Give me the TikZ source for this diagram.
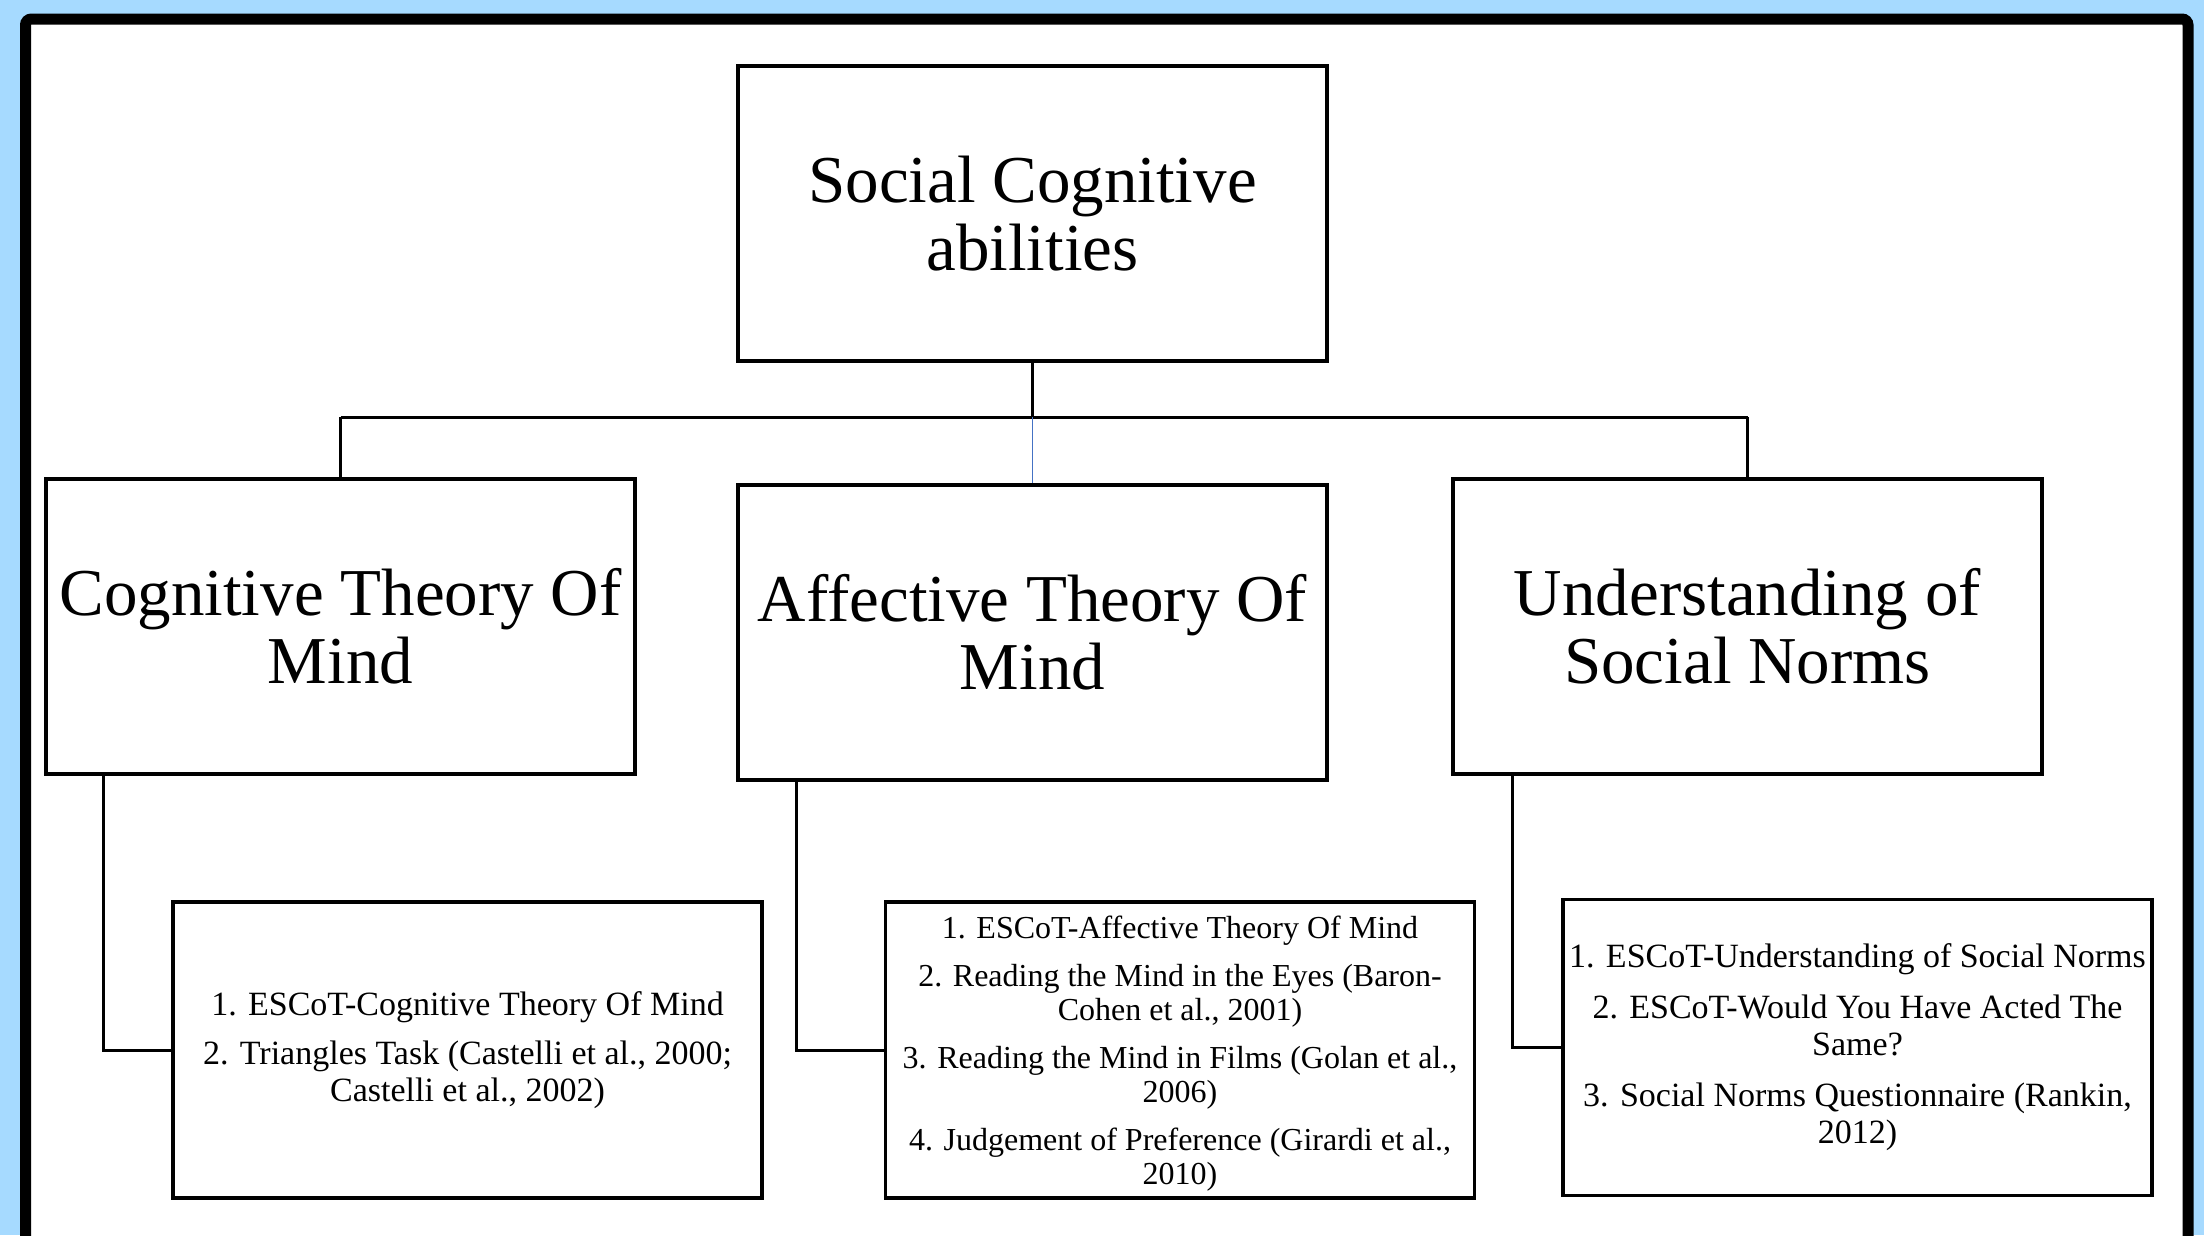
\documentclass[tikz,border=0pt]{standalone}
\usepackage{fontspec}
\setmainfont{Liberation Serif}
\definecolor{bgblue}{RGB}{166,218,255}
\definecolor{linkblue}{RGB}{68,114,196}
\begin{document}
\begin{tikzpicture}[x=1pt,y=-1pt,
  bigbox/.style={draw=black, line width=3.5pt, fill=white, minimum width=589pt, minimum height=295pt, inner sep=0pt, align=center, font=\fontsize{67}{68}\selectfont},
  smallbox/.style={draw=black, line width=3.5pt, fill=white, minimum width=589pt, minimum height=296pt, inner sep=0pt, align=center, font=\fontsize{34}{37}\selectfont},
  conn/.style={draw=black, line width=3pt},
  thinconn/.style={draw=linkblue, line width=1.5pt}]
\useasboundingbox (0,0) rectangle (2204,1235);
\clip (0,0) rectangle (2204,1235);
\fill[bgblue] (0,0) rectangle (2204,1235);
\draw[line width=11pt, fill=white, rounded corners=6pt] (25.5,19) rectangle (2188,1270);

\coordinate (busc) at (1032.5,417);
\coordinate (busl) at (340.5,417);
\coordinate (busr) at (1747.5,417);

\node[bigbox] (top) at (1032.5,213.5) {Social Cognitive\\abilities};
\node[bigbox] (ctom) at (340.5,626.5) {Cognitive Theory Of\\Mind};
\node[bigbox] (atom) at (1032.5,632.5) {Affective Theory Of\\Mind};
\node[bigbox] (usn) at (1747.5,626.5) {Understanding of\\Social Norms};

\node[smallbox] (l3a) at (467.5,1050) {1. ESCoT-Cognitive Theory Of Mind\\[12pt]2. Triangles Task (Castelli et al., 2000;\\Castelli et al., 2002)};
\node[smallbox, minimum height=296pt] (l3b) at (1180,1050) {};
\node[font=\fontsize{32}{34}\selectfont, align=center, inner sep=0pt] (l3btext) at (1180,1054) {1. ESCoT-Affective Theory Of Mind\\[14pt]2. Reading the Mind in the Eyes (Baron-\\Cohen et al., 2001)\\[14pt]3. Reading the Mind in Films (Golan et al.,\\2006)\\[14pt]4. Judgement of Preference (Girardi et al.,\\2010)};
\node[smallbox] (l3c) at (1857.5,1047.5) {1. ESCoT-Understanding of Social Norms\\[14pt]2. ESCoT-Would You Have Acted The\\Same?\\[14pt]3. Social Norms Questionnaire (Rankin,\\2012)};

\draw[conn] (top.south) -- (busc);
\draw[conn] (busl) -- (busr);
\draw[conn] (busl) -- (ctom.north);
\draw[conn] (busr) -- (usn.north);
\draw[thinconn] (busc) -- (atom.north);

\draw[conn] ([xshift=59pt]ctom.south west) |- (l3a.west);
\draw[conn] ([xshift=60pt]atom.south west) |- (l3b.west);
\draw[conn] ([xshift=61pt]usn.south west) |- (l3c.west);
\end{tikzpicture}
\end{document}
